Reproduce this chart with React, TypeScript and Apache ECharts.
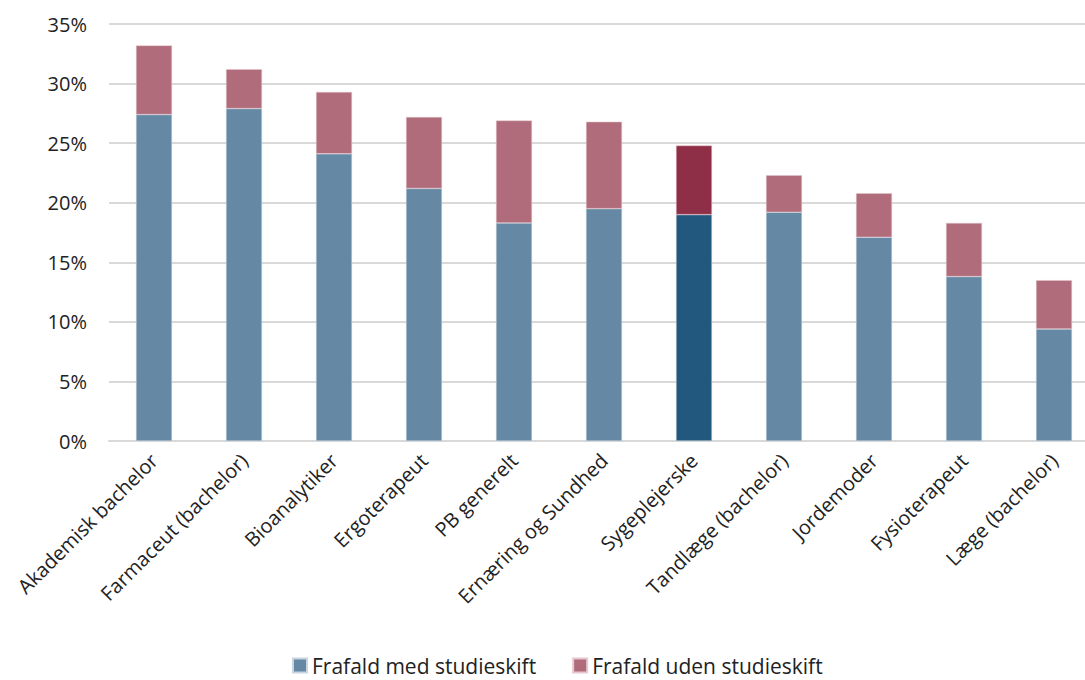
import React, { useEffect, useRef } from "react";
import * as echarts from "echarts";

const categories = [
  "Akademisk bachelor",
  "Farmaceut (bachelor)",
  "Bioanalytiker",
  "Ergoterapeut",
  "PB generelt",
  "Ernæring og Sundhed",
  "Sygeplejerske",
  "Tandlæge (bachelor)",
  "Jordemoder",
  "Fysioterapeut",
  "Læge (bachelor)",
];
const withSwitch = [27.4, 27.9, 24.1, 21.2, 18.3, 19.5, 19.0, 19.2, 17.1, 13.8, 9.4];
const withoutSwitch = [5.8, 3.3, 5.2, 6.0, 8.6, 7.3, 5.8, 3.1, 3.7, 4.5, 4.1];
const seriesNames = ["Frafald med studieskift", "Frafald uden studieskift"];
const highlightCategory = "Sygeplejerske";

const FONT = "Open Sans";

export default function App() {
  const ref = useRef<HTMLDivElement>(null);
  useEffect(() => {
    if (!ref.current) return;
    const chart = echarts.init(ref.current, null, { renderer: "svg" });
    const mk = (vals: number[], base: string, hi: string) =>
      vals.map((v, i) => ({
        value: v,
        itemStyle: { color: categories[i] === highlightCategory ? hi : base },
      }));
    chart.setOption({
      animation: false,
      textStyle: { fontFamily: FONT },
      grid: { left: 109, right: 1, top: 24, bottom: 239, outerBoundsMode: "none" },
      legend: {
        left: 287,
        top: 650,
        itemWidth: 14,
        itemHeight: 14,
        itemGap: 36,
        icon: "rect",
        textStyle: { fontSize: 21, color: "#222", fontFamily: FONT },
        data: seriesNames,
      },
      xAxis: {
        type: "category",
        data: categories,
        axisTick: { show: false },
        axisLine: { lineStyle: { color: "#d9d9d9", width: 2 } },
        axisLabel: {
          rotate: 45,
          interval: 0,
          fontSize: 20,
          color: "#222",
          margin: 16,
          fontFamily: FONT,
        },
      },
      yAxis: {
        type: "value",
        min: 0,
        max: 35,
        interval: 5,
        axisLabel: {
          formatter: "{value}%",
          fontSize: 20,
          color: "#222",
          margin: 22,
          fontFamily: FONT,
        },
        splitLine: { lineStyle: { color: "#d9d9d9", width: 2 } },
      },
      series: [
        {
          name: seriesNames[0],
          type: "bar",
          stack: "total",
          barWidth: 36,
          color: "#6589A4",
          itemStyle: { borderColor: "#c9d6e0", borderWidth: 0.5 },
          data: mk(withSwitch, "#6589A4", "#22577E"),
        },
        {
          name: seriesNames[1],
          type: "bar",
          stack: "total",
          barWidth: 36,
          color: "#B06C7B",
          itemStyle: { borderColor: "#e6c8cf", borderWidth: 0.5 },
          data: mk(withoutSwitch, "#B06C7B", "#8F2F47"),
        },
      ],
    });
    return () => chart.dispose();
  }, []);
  return (
    <div style={{ position: "fixed", left: 0, top: 0, width: 1085, height: 680, overflow: "hidden", background: "#fff" }}>
      <div ref={ref} style={{ width: 1100, height: 680 }} />
    </div>
  );
}
